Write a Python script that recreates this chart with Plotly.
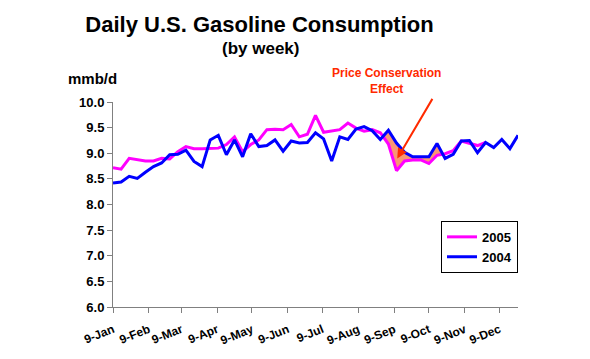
import numpy as np
import pandas as pd
import plotly.graph_objects as go

# ---- data ----
week_start = "2005-01-09"
series_2004 = [8.42, 8.44, 8.55, 8.51, 8.63, 8.74, 8.81, 8.97, 8.98, 9.06,
               8.84, 8.74, 9.26, 9.35, 8.97, 9.26, 8.93, 9.38, 9.13, 9.15,
               9.26, 9.04, 9.24, 9.20, 9.21, 9.40, 9.28, 8.85, 9.32, 9.27,
               9.47, 9.52, 9.44, 9.27, 9.45, 9.20, 9.02, 8.93, 8.93, 8.93,
               9.19, 8.90, 8.98, 9.24, 9.25, 9.01, 9.21, 9.11, 9.27, 9.09,
               9.35]
series_2005 = [8.72, 8.69, 8.90, 8.87, 8.85, 8.85, 8.90, 8.89, 9.03, 9.13,
               9.09, 9.09, 9.09, 9.10, 9.17, 9.32, 9.03, 9.17, 9.26, 9.46,
               9.47, 9.46, 9.56, 9.32, 9.37, 9.74, 9.41, 9.43, 9.46, 9.59,
               9.49, 9.43, 9.46, 9.40, 9.18, 8.66, 8.85, 8.87, 8.87, 8.80,
               8.96, 8.99, 9.05, 9.24, 9.20, 9.15, 9.21]
series_names = ["2005", "2004"]
effect_weeks = (33, 41)  # weeks bracketing the shaded "price conservation" gap

dates_2004 = pd.date_range(week_start, periods=len(series_2004), freq="7D")
dates_2005 = dates_2004[:len(series_2005)]

# ---- shaded region between the curves where 2004 > 2005 ----
b = np.array(series_2004, dtype=float)
p = np.array(series_2005, dtype=float)
i0, i1 = effect_weeks
t_ms = dates_2004.astype("int64").to_numpy() // 10**6


def cross(i):
    d0 = b[i] - p[i]
    d1 = b[i + 1] - p[i + 1]
    f = d0 / (d0 - d1)
    t = t_ms[i] + f * (t_ms[i + 1] - t_ms[i])
    v = b[i] + f * (b[i + 1] - b[i])
    return t, v


ts, vs = cross(i0)
te, ve = cross(i1 - 1)
upper_t = [ts] + list(t_ms[i0 + 1:i1]) + [te]
upper_v = [vs] + list(b[i0 + 1:i1]) + [ve]
lower_t = list(t_ms[i0 + 1:i1][::-1])
lower_v = list(p[i0 + 1:i1][::-1])
fill_t = pd.to_datetime(np.array(upper_t + lower_t + [ts], dtype="int64"), unit="ms")
fill_v = upper_v + lower_v + [vs]

FONT = "Arial, Liberation Sans, sans-serif"

fig = go.Figure()
fig.add_trace(go.Scatter(x=fill_t, y=fill_v, mode="lines", fill="toself",
                         fillcolor="rgb(250,150,115)", line=dict(width=0),
                         showlegend=False, hoverinfo="skip"))
fig.add_trace(go.Scatter(x=dates_2005, y=series_2005, mode="lines",
                         name=series_names[0],
                         line=dict(color="#FF00FF", width=3)))
fig.add_trace(go.Scatter(x=dates_2004, y=series_2004, mode="lines",
                         name=series_names[1],
                         line=dict(color="#0000FF", width=3)))

fig.update_layout(
    width=590, height=359,
    margin=dict(l=113, r=72, t=102, b=49),
    paper_bgcolor="white", plot_bgcolor="white",
    font=dict(family=FONT, color="black"),
    title=dict(text="<b>Daily U.S. Gasoline Consumption</b>",
               font=dict(size=22, family=FONT, color="black"),
               x=259.5 / 590, xanchor="center",
               y=1 - 24 / 359, yanchor="middle"),
    legend=dict(x=1.0, xanchor="right", y=0.42, yanchor="top",
                bordercolor="black", borderwidth=1, bgcolor="white",
                font=dict(size=13, family=FONT, color="black", weight="bold"),
                itemwidth=30, tracegroupgap=0),
    showlegend=True,
)

fig.update_xaxes(
    type="date",
    range=[dates_2004[0], dates_2004[-1]],
    tick0=week_start, dtick="M1", tickformat="%-d-%b",
    tickangle=-22, ticklabelstandoff=5,
    ticks="outside", ticklen=5, tickcolor="#808080",
    showline=True, linecolor="#808080", linewidth=1,
    showgrid=False, zeroline=False,
    tickfont=dict(size=12, family=FONT, color="black", weight="bold"),
)
fig.update_yaxes(
    range=[6.0, 10.0], dtick=0.5, tick0=6.0, tickformat=".1f",
    ticks="outside", ticklen=5, tickcolor="#808080",
    showline=True, linecolor="#808080", linewidth=1,
    showgrid=False, zeroline=False,
    tickfont=dict(size=13, family=FONT, color="black", weight="bold"),
)

fig.add_annotation(text="<b>(by week)</b>", xref="paper", yref="paper",
                   x=(260 - 113) / 405, y=(310 - 48) / 208,
                   xanchor="center", yanchor="middle", showarrow=False,
                   font=dict(size=17, family=FONT, color="black"))
fig.add_annotation(text="<b>mmb/d</b>", xref="paper", yref="paper",
                   x=(92 - 113) / 405, y=(310 - 78) / 208,
                   xanchor="center", yanchor="middle", showarrow=False,
                   font=dict(size=15, family=FONT, color="black"))
fig.add_annotation(text="<b>Price Conservation<br>Effect</b>",
                   xref="paper", yref="paper",
                   x=(386 - 113) / 405, y=(310 - 81) / 208,
                   xanchor="center", yanchor="middle", showarrow=False,
                   font=dict(size=12, family=FONT, color="#FF2A00"))
fig.add_annotation(text="", x="2005-09-11 16:00", y=8.90, xref="x", yref="y",
                   showarrow=True, arrowhead=2, arrowsize=1, arrowwidth=2,
                   arrowcolor="#FF2A00", ax=36, ay=-61, standoff=0)

fig.write_html("out.html", config={"displayModeBar": False},
               post_script="document.body.style.margin='0px';")
